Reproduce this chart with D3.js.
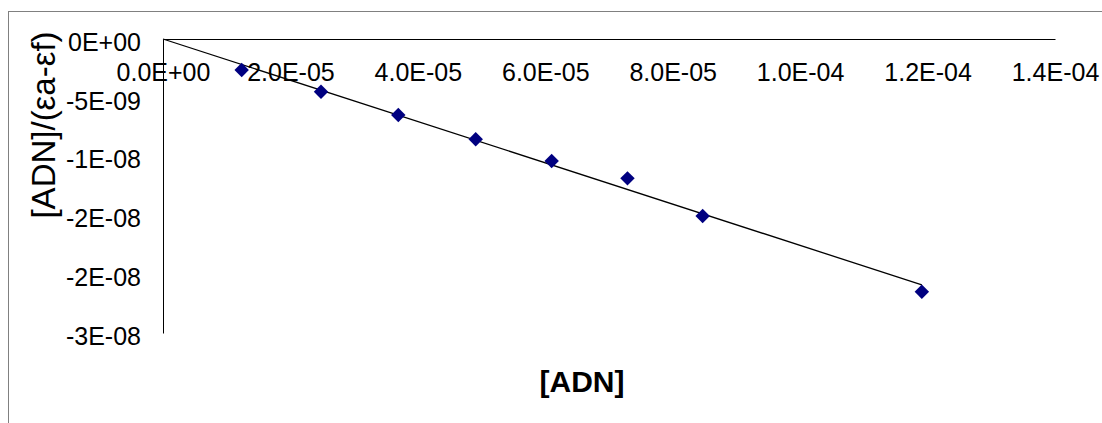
<!DOCTYPE html>
<html>
<head>
<meta charset="utf-8">
<script src="https://cdn.jsdelivr.net/npm/d3@7"></script>
<style>
  html, body { margin: 0; padding: 0; background: #fff; }
  svg { display: block; }
  text { font-family: "Liberation Sans", Arial, sans-serif; }
</style>
</head>
<body>
<script>
// [ADN] concentrations (x) and [ADN]/(εa-εf) ratios (y)
const adn = [1.235e-5, 2.48e-5, 3.693e-5, 4.908e-5, 6.10e-5, 7.29e-5, 8.47e-5, 1.191e-4];
const ratio = [-2.64e-9, -4.48e-9, -6.46e-9, -8.53e-9, -1.037e-8, -1.185e-8, -1.505e-8, -2.149e-8];

const xTicks = [0, 2e-5, 4e-5, 6e-5, 8e-5, 1.0e-4, 1.2e-4, 1.4e-4];
const xTickLabels = ["0.0E+00", "2.0E-05", "4.0E-05", "6.0E-05", "8.0E-05", "1.0E-04", "1.2E-04", "1.4E-04"];
const yTicks = [0, -5e-9, -1e-8, -1.5e-8, -2e-8, -2.5e-8];
const yTickLabels = ["0E+00", "-5E-09", "-1E-08", "-2E-08", "-2E-08", "-3E-08"];

const W = 1102, H = 423;
const plot = { left: 163, right: 1055, top: 39, bottom: 333 };

const svg = d3.select("body").append("svg").attr("width", W).attr("height", H);

// chart area frame
svg.append("rect")
  .attr("x", 8.5).attr("y", 11.5)
  .attr("width", 1120).attr("height", 440)
  .attr("fill", "#fff").attr("stroke", "#808080").attr("stroke-width", 1);

const x = d3.scaleLinear().domain([0, 1.4e-4]).range([plot.left, plot.right]);
const y = d3.scaleLinear().domain([0, -2.5e-8]).range([plot.top, plot.bottom]);

// x axis sits at y = 0 (top of the plot)
const xAxis = d3.axisBottom(x)
  .tickValues(xTicks)
  .tickSize(0)
  .tickPadding(24)
  .tickFormat((d, i) => xTickLabels[i]);
const gx = svg.append("g").attr("transform", `translate(0,${y(0)})`).call(xAxis);
gx.select(".domain").attr("stroke", "#000").attr("stroke-width", 1);
gx.selectAll("text").attr("font-size", 25).attr("fill", "#000")
  .attr("font-family", "Liberation Sans, Arial, sans-serif");

const yAxis = d3.axisLeft(y)
  .tickValues(yTicks)
  .tickSize(0)
  .tickPadding(22)
  .tickFormat((d, i) => yTickLabels[i]);
const gy = svg.append("g").attr("transform", `translate(${x(0)},0)`).call(yAxis);
gy.select(".domain").attr("stroke", "#000").attr("stroke-width", 1);
gy.selectAll("text").attr("font-size", 25).attr("fill", "#000")
  .attr("dy", "0.45em")
  .attr("font-family", "Liberation Sans, Arial, sans-serif");

// linear trendline through the origin (least squares)
const sxy = d3.sum(adn, (v, i) => v * ratio[i]);
const sxx = d3.sum(adn, v => v * v);
const slope = sxy / sxx;
const xMax = d3.max(adn);
svg.append("line")
  .attr("x1", x(0)).attr("y1", y(0))
  .attr("x2", x(xMax)).attr("y2", y(slope * xMax))
  .attr("stroke", "#000").attr("stroke-width", 1.3);

// data markers (diamonds)
const diamond = d3.symbol().type(d3.symbolSquare).size(104);
svg.append("g").selectAll("path")
  .data(adn.map((v, i) => [v, ratio[i]]))
  .join("path")
  .attr("d", diamond)
  .attr("transform", d => `translate(${x(d[0])},${y(d[1])}) rotate(45)`)
  .attr("fill", "#000080");

// axis titles
svg.append("text")
  .attr("x", 582).attr("y", 392)
  .attr("text-anchor", "middle")
  .attr("font-size", 30).attr("font-weight", "bold")
  .text("[ADN]");

svg.append("text")
  .attr("transform", "translate(43,125) rotate(-90)")
  .attr("text-anchor", "middle")
  .attr("dy", "0.35em")
  .attr("font-size", 33)
  .text("[ADN]/(εa-εf)");
</script>
</body>
</html>
